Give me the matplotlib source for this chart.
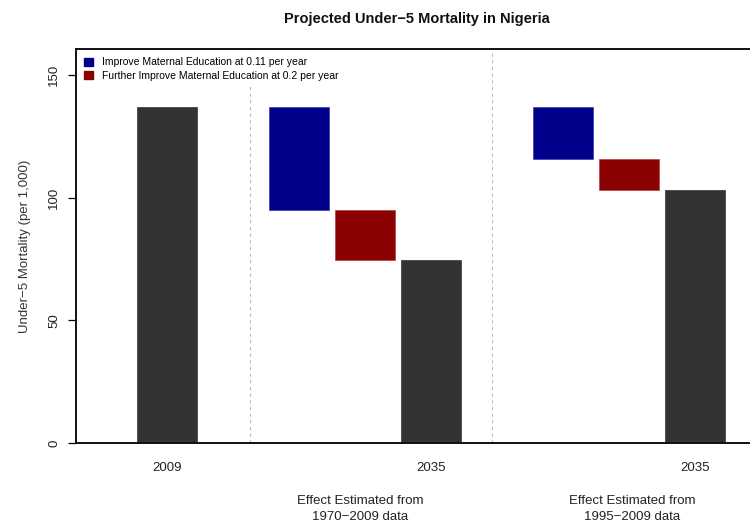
import matplotlib
matplotlib.use("Agg")
import matplotlib.pyplot as plt
from matplotlib.patches import Patch

plt.rcParams['font.family'] = ['Liberation Sans', 'DejaVu Sans']

# Data
baseline_2009 = 137.0
after_improve = [95.0, 115.5]     # level after first improvement (two scenarios)
after_further = [74.5, 103.0]     # final level 2035 (two scenarios)
tick_labels = ["2009", "2035", "2035"]
group_labels = ["Effect Estimated from\n1970\u22122009 data",
                "Effect Estimated from\n1995\u22122009 data"]
legend_labels = ["Improve Maternal Education at 0.11 per year",
                 "Further Improve Maternal Education at 0.2 per year"]
yticks = [0, 50, 100, 150]

dark = "#333333"
blue = "#00008B"
red = "#8B0000"

W, H = 750, 527
fig = plt.figure(figsize=(7.5, 5.27), dpi=100)
L, R, T, B = 76, 760, 49, 443
ax = fig.add_axes([L / W, (H - B) / H, (R - L) / W, (B - T) / H])

bw = 60 / 66
# 2009 bar
ax.bar(0, baseline_2009, width=bw, color=dark, edgecolor=dark, linewidth=0.5)
groups = [(2, 3, 4), (6, 7, 8)]
for i, (pb, pr, pd) in enumerate(groups):
    ax.bar(pb, baseline_2009 - after_improve[i], bottom=after_improve[i], width=bw,
           color=blue, edgecolor="#3a3ab0", linewidth=0.5)
    ax.bar(pr, after_improve[i] - after_further[i], bottom=after_further[i], width=bw,
           color=red, edgecolor="#b04040", linewidth=0.5)
    ax.bar(pd, after_further[i], width=bw, color=dark, edgecolor=dark, linewidth=0.5)

for xv in [1.26, 4.92]:
    ax.axvline(xv, color="#bbbbbb", linestyle=(0, (3, 3)), linewidth=0.8, zorder=0)

ax.set_xlim((L - 167) / 66, (R - 167) / 66)
ax.set_ylim(0, 160.5)

ax.set_xticks([0, 4, 8])
ax.set_xticklabels(tick_labels, fontsize=9.5, color="#222222")
ax.tick_params(axis='x', length=0, pad=14)
ax.set_yticks(yticks)
ax.set_yticklabels([str(v) for v in yticks], rotation=90, va='center', fontsize=9.5, color="#222222")
ax.tick_params(axis='y', length=5.5, width=0.9, pad=6)
ax.set_ylabel("Under\u22125 Mortality (per 1,000)", fontsize=9.5, color="#333333", labelpad=12)

for s in ax.spines.values():
    s.set_linewidth(1.4)
    s.set_color("#111111")

for xg, txt in zip([360, 632], group_labels):
    ax.text((xg - 167) / 66, -0.133, txt, transform=ax.get_xaxis_transform(),
            ha='center', va='top', fontsize=9.5, color="#222222", linespacing=1.4)

handles = [Patch(facecolor=blue, edgecolor=blue), Patch(facecolor=red, edgecolor=red)]
leg = ax.legend(handles, legend_labels, loc='upper left', frameon=True, fontsize=7.5,
                handlelength=0.8, handleheight=0.8, handletextpad=0.9, labelspacing=0.35,
                borderaxespad=0.2, borderpad=0.6, bbox_to_anchor=(0.0, 1.0), fancybox=False)
leg.get_frame().set_facecolor("white")
leg.get_frame().set_edgecolor("none")
leg.get_frame().set_alpha(1)

fig.text(417 / W, 1 - 18.5 / H, "Projected Under\u22125 Mortality in Nigeria", ha='center', va='center',
         fontsize=10.5, fontweight='bold', color="#111111")

fig.savefig("out.png", dpi=100)
